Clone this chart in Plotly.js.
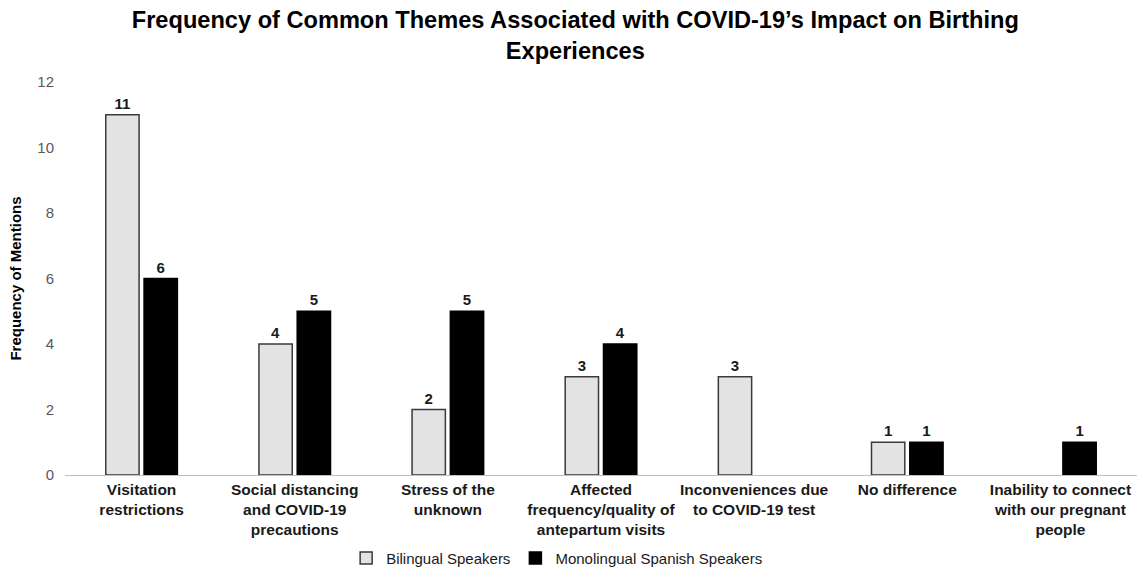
<!DOCTYPE html>
<html>
<head>
<meta charset="utf-8">
<script src="https://cdn.plot.ly/plotly-3.0.1.min.js"></script>
<style>html,body{margin:0;padding:0;background:#fff;}#chart{width:1137px;height:569px;}</style>
</head>
<body>
<div id="chart"></div>
<script>
var categories = [
  "Visitation<br>restrictions",
  "Social distancing<br>and COVID-19<br>precautions",
  "Stress of the<br>unknown",
  "Affected<br>frequency/quality of<br>antepartum visits",
  "Inconveniences due<br>to COVID-19 test",
  "No difference",
  "Inability to connect<br>with our pregnant<br>people"
];
var bilingual = [11, 4, 2, 3, 3, 1, null];
var monolingual = [6, 5, 5, 4, null, 1, 1];
var seriesNames = ["Bilingual Speakers", "Monolingual Spanish Speakers"];

var FONT = "Liberation Sans, Arial, sans-serif";

var traces = [
  {
    type: "bar", name: seriesNames[0], x: categories, y: bilingual,
    marker: {color: "#e3e3e3", line: {color: "#3a3a3a", width: 1.5}},
    text: bilingual.map(function(v){return v === null ? "" : String(v);}),
    textposition: "outside", cliponaxis: false,
    textfont: {family: FONT, size: 15, color: "#1a1a1a", weight: "bold"}
  },
  {
    type: "bar", name: seriesNames[1], x: categories, y: monolingual,
    marker: {color: "#000000", line: {color: "#000000", width: 1.5}},
    text: monolingual.map(function(v){return v === null ? "" : String(v);}),
    textposition: "outside", cliponaxis: false,
    textfont: {family: FONT, size: 15, color: "#1a1a1a", weight: "bold"}
  }
];

var layout = {
  width: 1137, height: 569,
  paper_bgcolor: "#ffffff", plot_bgcolor: "#ffffff",
  font: {family: FONT, color: "#262626"},
  margin: {l: 65, r: 0, t: 82, b: 94},
  title: {
    text: "<b>Frequency of Common Themes Associated with COVID-19’s Impact on Birthing<br>Experiences</b>",
    font: {family: FONT, size: 23.6, color: "#000000"},
    x: 0.506, xanchor: "center", y: 0.951, yanchor: "top", yref: "container"
  },
  barmode: "group", bargap: 0.5, bargroupgap: 0.13,
  xaxis: {
    type: "category", showgrid: false, showline: true, linecolor: "#bfbfbf", linewidth: 1,
    ticks: "", tickfont: {family: FONT, size: 15.5, color: "#1a1a1a", weight: "bold"}, tickangle: 0,
    automargin: false
  },
  yaxis: {
    range: [0, 12], dtick: 2, showgrid: false, showline: false, zeroline: false,
    ticks: "", tickfont: {family: FONT, size: 15, color: "#595959"}, ticklabelstandoff: 10,
    title: {text: "<b>Frequency of Mentions</b>", font: {family: FONT, size: 15, color: "#000000"}, standoff: 12},
    automargin: false
  },
  showlegend: true,
  legend: {
    orientation: "h", x: 0.49, xanchor: "center", xref: "container",
    y: 0.019, yanchor: "middle", yref: "container",
    font: {family: FONT, size: 15, color: "#1a1a1a"}, traceorder: "normal",
    itemwidth: 30
  }
};

Plotly.newPlot("chart", traces, layout, {displayModeBar: false, staticPlot: true});
</script>
</body>
</html>
